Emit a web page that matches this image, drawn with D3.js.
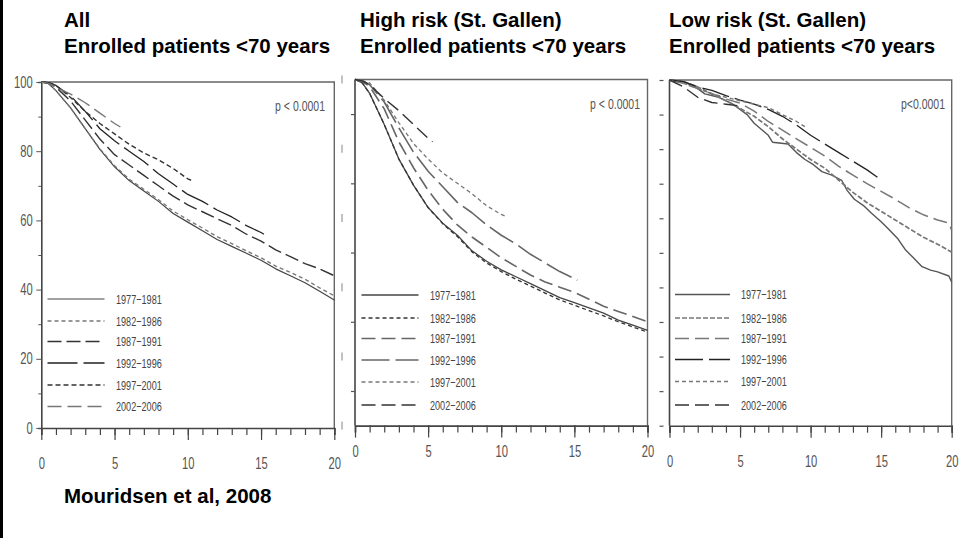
<!DOCTYPE html>
<html><head><meta charset="utf-8">
<script src="https://cdn.jsdelivr.net/npm/d3@7"></script>
<style>
body{margin:0;background:#fff;}
svg{display:block;}
.tk text{font-family:"Liberation Sans",Arial,sans-serif;font-size:16px;fill:#555;}
.lg{font-family:"Liberation Sans",Arial,sans-serif;font-size:13px;fill:#444;}
.pv{font-family:"Liberation Sans",Arial,sans-serif;font-size:15px;fill:#555;}
.ttl{font-family:"Liberation Sans",Arial,sans-serif;font-weight:bold;font-size:20.5px;fill:#000;}
</style></head><body>
<svg id="c" width="959" height="538"></svg>
<script>
// ---------- data ----------
const periods = ["1977\u22121981","1982\u22121986","1987\u22121991","1992\u22121996","1997\u22122001","2002\u22122006"];
const titles = [["All","Enrolled patients <70 years"],["High risk (St. Gallen)","Enrolled patients <70 years"],["Low risk (St. Gallen)","Enrolled patients <70 years"]];
const pLabels = ["p < 0.0001","p < 0.0001","p<0.0001"];
const xTicks = [0,5,10,15,20];
const yTicks = [0,20,40,60,80,100];
const source = "Mouridsen et al, 2008";

// All patients
const all7781 = [[0,100],[0.5,99.5],[1,97.5],[2,92.5],[3,86.5],[4,80.5],[5,75.5],[6,71.5],[7,68.5],[8,65.5],[9,62],[10,59.5],[11,57],[12,54.5],[13,52.5],[14,50.5],[15,48.5],[16,46],[17,44],[18,42],[19,39.5],[20,37]];
const all8286 = [[0,100],[0.5,99.5],[1,97.5],[2,92.5],[3,86.5],[4,80.7],[5,75.8],[6,71.9],[7,69],[8,66],[9,62.7],[10,60.2],[11,57.8],[12,55.3],[13,53.3],[14,51.2],[15,49.2],[16,46.8],[17,45],[18,43],[19,40.5],[20,38.2]];
const all8791 = [[0,100],[0.5,99.7],[1,98.5],[2,94.5],[3,89],[4,83.5],[5,79],[6,76],[7,73],[8,70],[9,67],[10,64.5],[11,62.5],[12,60.5],[13,58.5],[14,56],[15,54],[16,51.5],[17,49.5],[18,47.5],[19,46],[20,44]];
const all9296 = [[0,100],[0.5,99.8],[1,99],[2,96],[3,91.5],[4,86.5],[5,83],[6,80],[7,77],[8,73.5],[9,70.5],[10,67.5],[11,65.5],[12,63],[13,61],[14,58.5],[15,56.5],[15.2,56]];
const all9701 = [[0,100],[0.5,99.8],[1,99],[2,95.5],[3,91.5],[4,88],[5,85],[6,82],[7,79.5],[8,77.5],[9,75],[10,72],[10.4,71.3]];
const all0206 = [[0,100],[0.5,99.6],[1,98.5],[2,96.5],[3,94],[4,91],[5,88],[5.4,87]];

// High risk
const hi7781 = [[0,100],[0.5,99],[1,96],[2,87],[3,77],[4,69.5],[5,63],[6,58.5],[7,55],[8,50.5],[9,47.5],[10,45],[11,43],[12,41],[13,39],[14,37],[15,35.5],[16,34],[17,32.5],[18,30.5],[19,29],[20,27.5]];
const hi8286 = [[0,100],[0.5,99],[1,96],[2,87],[3,77],[4,69.5],[5,63],[6,58.3],[7,54.6],[8,50.2],[9,47],[10,44.5],[11,42.3],[12,40.3],[13,38.3],[14,36.3],[15,34.8],[16,33.2],[17,31.7],[18,30],[19,28.5],[20,27]];
const hi8791 = [[0,100],[0.5,99.4],[1,98],[2,91.5],[3,82],[4,74.5],[5,68],[6,62.5],[7,58],[8,54.5],[9,51.5],[10,48.5],[11,46],[12,43.5],[13,41.5],[14,40],[15,38.5],[16,36.5],[17,34.5],[18,33],[19,31.5],[20,30]];
const hi9296 = [[0,100],[0.5,99.6],[1,98.5],[2,93.5],[3,86],[4,79],[5,73.5],[6,69],[7,64.5],[8,61.5],[9,58],[10,55],[11,52.5],[12,49.5],[13,47],[14,44.5],[15,42.5],[15.2,42]];
const hi9701 = [[0,100],[0.5,99.7],[1,99],[2,94],[3,87.5],[4,81.5],[5,77],[6,73],[7,70],[8,67],[9,63.5],[10,61],[10.3,60.5]];
const hi0206 = [[0,100],[0.5,99.6],[1,98.5],[2,94.5],[3,91],[4,87],[5,83],[5.3,82]];

// Low risk
const lo7781 = [[0,100],[1,99.5],[2,97.5],[2.5,96],[3.5,95],[4.5,93],[5.5,90],[6,87.5],[7,84],[7.3,82],[8.4,81.5],[9,79],[9.6,77],[10.2,75.5],[10.8,73.5],[11.5,72.5],[12.2,71],[12.6,68],[13.1,65.5],[13.8,63.5],[14.3,61.5],[15,59],[15.5,57],[16.2,54],[16.7,51],[17.3,48.5],[17.9,46],[18.5,45],[19,44.5],[19.8,43.3],[20,41.5]];
const lo8286 = [[0,100],[1,99.5],[2,98],[3,96],[4,94],[5,91.8],[6,89.5],[7,86.5],[8,83],[9,80],[10,77],[11,74.5],[12,71],[13,67.5],[14,64.5],[15,62],[16,59.5],[17,57],[18,54.5],[19,52.5],[20,50.2]];
const lo8791 = [[0,100],[1,99],[2,97.5],[3,96],[4,94.5],[5,93.3],[6,91],[7,88],[8,85.5],[9,83],[10,80.5],[11,78],[12,75],[13,72.5],[14,70],[15,67.8],[16,65.5],[17,63],[18,61],[19,59.5],[19.8,58.6],[20,56.5]];
const lo9296 = [[0,100],[1,99.5],[2,98],[3,97],[4,95.5],[5,94.2],[6,93],[7,91.5],[8,89.5],[9,87],[10,84],[11,81.5],[12,79],[13,76.5],[14,74],[14.8,71.7]];
const lo9701 = [[0,100],[1,99],[2,97.5],[3,96],[4,95],[5,94],[6,93],[7,92],[8,90],[9,88],[9.6,86.5]];
const lo0206 = [[0,100],[1,98],[2,95],[3,93.5],[4,93],[5,92.5]];

const panelSeries = [
  [all7781,all8286,all8791,all9296,all9701,all0206],
  [hi7781,hi8286,hi8791,hi9296,hi9701,hi0206],
  [lo7781,lo8286,lo8791,lo9296,lo9701,lo0206]
];

// ---------- layout / styles ----------
const layout = [
  {x0:41.3,x1:334.3,yb:428,yt:82,tx:64,lgx0:47.5,lgx1:104.5,lgt:116,lgy:[299,321,341.5,363,385,406.5],xl:463.5,yLabels:true,pvx:325,pvy:106},
  {x0:355,x1:647.5,yb:425.6,yt:79.5,tx:360,lgx0:361.5,lgx1:418.5,lgt:430,lgy:[295,318,338.5,360,382,405],xl:451,yLabels:false,pvx:640,pvy:103.5},
  {x0:669.5,x1:951.7,yb:425.7,yt:80,tx:669,lgx0:675,lgx1:730,lgt:741,lgy:[294.5,318,338.5,359.5,381.5,405],xl:461,yLabels:false,pvx:945,pvy:103.5}
];
const styles = [
  [{c:"#444",w:1.2,d:null},{c:"#777",w:1.3,d:"4,3"},{c:"#333",w:1.4,d:"14,5"},{c:"#222",w:1.3,d:"30,6"},{c:"#333",w:1.4,d:"5,3"},{c:"#777",w:1.4,d:"14,6"}],
  [{c:"#444",w:1.3,d:null},{c:"#333",w:1.3,d:"4,3"},{c:"#666",w:1.6,d:"14,6"},{c:"#666",w:1.6,d:"28,6"},{c:"#777",w:1.3,d:"4,3"},{c:"#333",w:1.4,d:"14,6"}],
  [{c:"#555",w:1.4,d:null},{c:"#777",w:1.7,d:"5,2"},{c:"#777",w:1.5,d:"14,6"},{c:"#222",w:1.3,d:"28,6"},{c:"#777",w:1.4,d:"4,3"},{c:"#333",w:1.4,d:"14,6"}]
];
const SX = 0.7; // horizontal condensing of the small labels

const svg = d3.select("#c");
svg.append("rect").attr("x",0).attr("y",0).attr("width",959).attr("height",538).attr("fill","#fff");
svg.append("rect").attr("x",0).attr("y",0).attr("width",3).attr("height",538).attr("fill","#000");

function narrowText(g, cls, x, y, txt, anchor){
  return g.append("text").attr("class",cls)
    .attr("transform",`translate(${x},${y}) scale(${SX},1)`)
    .attr("dy","0.35em").attr("text-anchor",anchor||"start").text(txt);
}

layout.forEach((L,pi)=>{
  const g = svg.append("g");
  const x = d3.scaleLinear().domain([0,20]).range([L.x0,L.x1]);
  const y = d3.scaleLinear().domain([0,100]).range([L.yb,L.yt]);

  // frame top & right
  g.append("path").attr("d",`M${L.x0},${L.yt}H${L.x1}V${L.yb}`).attr("fill","none").attr("stroke","#666").attr("stroke-width",1.4);

  // x axis minor and major ticks
  const xa = g.append("g").attr("class","tk").attr("transform",`translate(0,${L.yb})`)
    .call(d3.axisBottom(x).tickValues(d3.range(0,21)).tickSize(7).tickFormat(""));
  xa.select(".domain").attr("stroke","#444").attr("stroke-width",1.6);
  xa.selectAll(".tick line").attr("stroke","#444").attr("stroke-width",1.2);
  const xM = g.append("g").attr("class","tk").attr("transform",`translate(0,${L.yb})`)
    .call(d3.axisBottom(x).tickValues(xTicks).tickSize(12).tickPadding(0).tickFormat(d3.format("d")));
  xM.select(".domain").remove();
  xM.selectAll(".tick line").attr("stroke","#444").attr("stroke-width",1.2);
  xM.selectAll(".tick text").attr("y",0).attr("dy","0.35em")
    .attr("transform",`translate(0,${L.xl-L.yb}) scale(${SX},1)`);

  // y axis
  if(L.yLabels){
    const ya = g.append("g").attr("class","tk").attr("transform",`translate(${L.x0},0)`)
      .call(d3.axisLeft(y).tickValues(d3.range(10,100,20)).tickSize(3).tickFormat(""));
    ya.select(".domain").attr("stroke","#444").attr("stroke-width",1.6);
    ya.selectAll(".tick line").attr("stroke","#555");
    const yM = g.append("g").attr("class","tk").attr("transform",`translate(${L.x0},0)`)
      .call(d3.axisLeft(y).tickValues(yTicks).tickSize(5).tickPadding(3).tickFormat(d3.format("d")));
    yM.select(".domain").remove();
    yM.selectAll(".tick line").attr("stroke","#555");
    yM.selectAll(".tick text").attr("x",0).attr("transform",`translate(-8.5,0) scale(${SX},1)`);
  } else {
    g.append("line").attr("x1",L.x0).attr("x2",L.x0).attr("y1",L.yt).attr("y2",L.yb).attr("stroke","#444").attr("stroke-width",1.6);
    const off = pi===1 ? 0 : -6;
    const ya = g.append("g").attr("class","tk").attr("transform",`translate(${L.x0+off},0)`)
      .call(d3.axisLeft(y).tickValues(pi===1?d3.range(10,100,20):d3.range(0,101,10)).tickSize(4).tickFormat(""));
    ya.select(".domain").remove();
    ya.selectAll(".tick line").attr("stroke","#555").attr("stroke-width",1.2);
    if(pi===1){
      // remnants of the cropped labels
      g.selectAll(".frag").data(yTicks).join("line")
        .attr("x1",L.x0-13).attr("x2",L.x0-13)
        .attr("y1",d=>y(d)-4).attr("y2",d=>y(d)+4)
        .attr("stroke","#999").attr("stroke-width",1.2);
    }
  }

  // curves
  const line = d3.line().x(d=>x(d[0])).y(d=>y(d[1]));
  panelSeries[pi].forEach((s,si)=>{
    const st = styles[pi][si];
    g.append("path").datum(s).attr("d",line).attr("fill","none")
      .attr("stroke",st.c).attr("stroke-width",st.w)
      .attr("stroke-dasharray",st.d).attr("stroke-linejoin","round");
  });

  // legend
  periods.forEach((p,i)=>{
    const st = styles[pi][i];
    g.append("line").attr("x1",L.lgx0).attr("x2",L.lgx1).attr("y1",L.lgy[i]).attr("y2",L.lgy[i])
      .attr("stroke",st.c).attr("stroke-width",st.w).attr("stroke-dasharray",st.d);
    narrowText(g,"lg",L.lgt,L.lgy[i],p);
  });

  // p value
  narrowText(g,"pv",L.pvx,L.pvy,pLabels[pi],"end");

  // titles
  g.append("text").attr("class","ttl").attr("x",L.tx).attr("y",27).text(titles[pi][0]);
  g.append("text").attr("class","ttl").attr("x",L.tx).attr("y",53).text(titles[pi][1]);
});

svg.append("text").attr("class","ttl").attr("x",64).attr("y",503).text(source);
</script>
</body></html>
